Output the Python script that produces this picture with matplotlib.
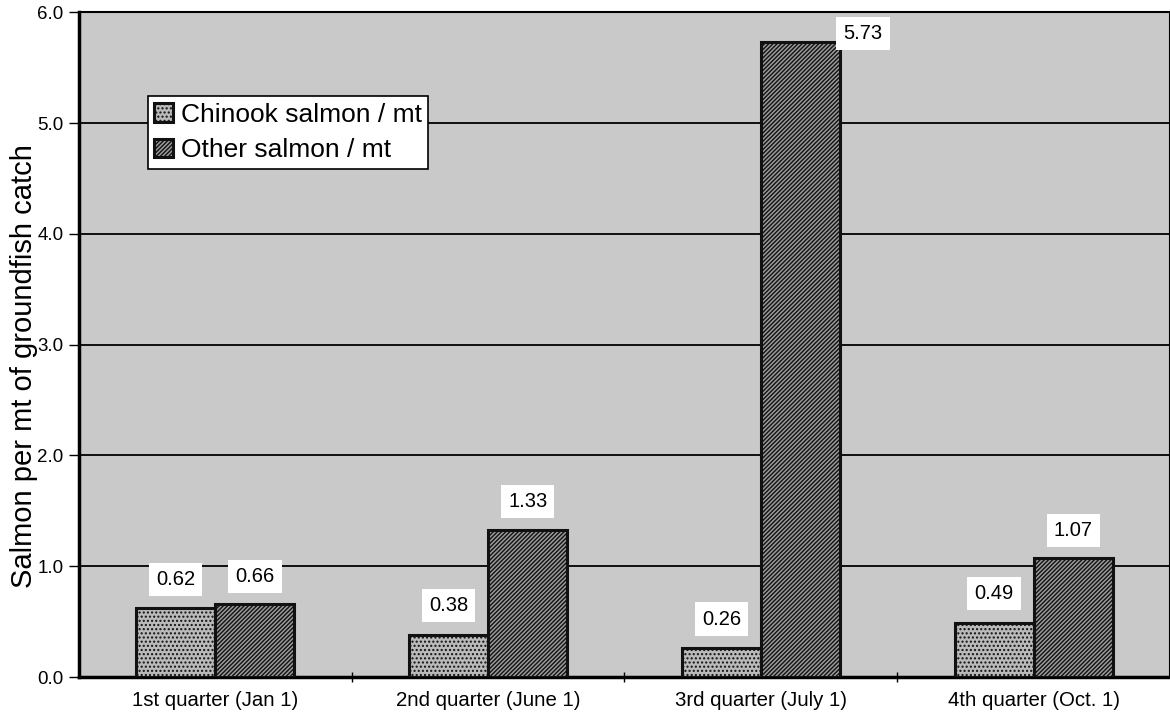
import matplotlib
matplotlib.use("Agg")
import matplotlib.pyplot as plt
import numpy as np

plt.rcParams['font.family'] = ['Liberation Sans', 'DejaVu Sans']
plt.rcParams['hatch.linewidth'] = 1.0

categories = ["1st quarter (Jan 1)", "2nd quarter (June 1)", "3rd quarter (July 1)", "4th quarter (Oct. 1)"]
chinook = [0.62, 0.38, 0.26, 0.49]
other = [0.66, 1.33, 5.73, 1.07]
chinook_labels = ["0.62", "0.38", "0.26", "0.49"]
other_labels = ["0.66", "1.33", "5.73", "1.07"]
yticks = [0.0, 1.0, 2.0, 3.0, 4.0, 5.0, 6.0]
ytick_labels = ["0.0", "1.0", "2.0", "3.0", "4.0", "5.0", "6.0"]

fig = plt.figure(figsize=(11.7, 7.21), dpi=100)
ax = fig.add_axes([0.0675, 0.061, 0.9325, 0.922])
ax.set_facecolor('#c9c9c9')

x = np.arange(len(categories))
w = 0.29
b1 = ax.bar(x - w/2, chinook, w, facecolor='#bababa', edgecolor='#111111', linewidth=2.2,
            hatch='....', zorder=3)
b2 = ax.bar(x + w/2, other, w, facecolor='#9a9a9a', edgecolor='#111111', linewidth=2.2,
            hatch='////////', zorder=3)

bbox = dict(boxstyle='square,pad=0.35', facecolor='white', edgecolor='none')
fs_val = 14.5
for i, (v, lab) in enumerate(zip(chinook, chinook_labels)):
    ax.annotate(lab, (x[i] - w/2, v), xytext=(0, 21), textcoords='offset points',
                ha='center', va='center', fontsize=fs_val, bbox=bbox, zorder=5)
for i, (v, lab) in enumerate(zip(other, other_labels)):
    if v > 5.5:
        ax.annotate(lab, (x[i] + w/2, v), xytext=(45, 6.5), textcoords='offset points',
                    ha='center', va='center', fontsize=fs_val, bbox=bbox, zorder=5)
    else:
        ax.annotate(lab, (x[i] + w/2, v), xytext=(0, 20), textcoords='offset points',
                    ha='center', va='center', fontsize=fs_val, bbox=bbox, zorder=5)

ax.set_xlim(-0.5, 3.5)
ax.set_ylim(0, 6.0)
ax.set_yticks(yticks)
ax.set_yticklabels(ytick_labels, fontsize=13.5)
ax.yaxis.grid(True, color='black', linewidth=1.3, zorder=1)
ax.set_axisbelow(True)

ax.set_xticks(x)
ax.set_xticklabels(categories, fontsize=14.7)
ax.tick_params(axis='x', length=0, pad=10)
ax.set_xticks([0.5, 1.5, 2.5], minor=True)
ax.tick_params(axis='x', which='minor', length=7, width=1, direction='inout')
ax.tick_params(axis='y', length=7, width=1, direction='out', pad=4)

for s in ['left', 'bottom']:
    ax.spines[s].set_linewidth(2.5)
ax.spines['top'].set_linewidth(1.5)
ax.spines['right'].set_linewidth(1.5)

ax.set_ylabel("Salmon per mt of groundfish catch", fontsize=21, va='center')
ax.yaxis.set_label_coords(-0.0504, 0.468)

leg = ax.legend([b1, b2], ["Chinook salmon / mt", "Other salmon / mt"],
                loc='upper left', bbox_to_anchor=(0.063, 0.874), fontsize=19,
                frameon=True, fancybox=False, edgecolor='black', framealpha=1,
                handlelength=0.7, handleheight=0.7, handletextpad=0.3,
                borderpad=0.25, labelspacing=0.45, borderaxespad=0)
leg.get_frame().set_linewidth(1.2)

fig.savefig("out.png", dpi=100)
